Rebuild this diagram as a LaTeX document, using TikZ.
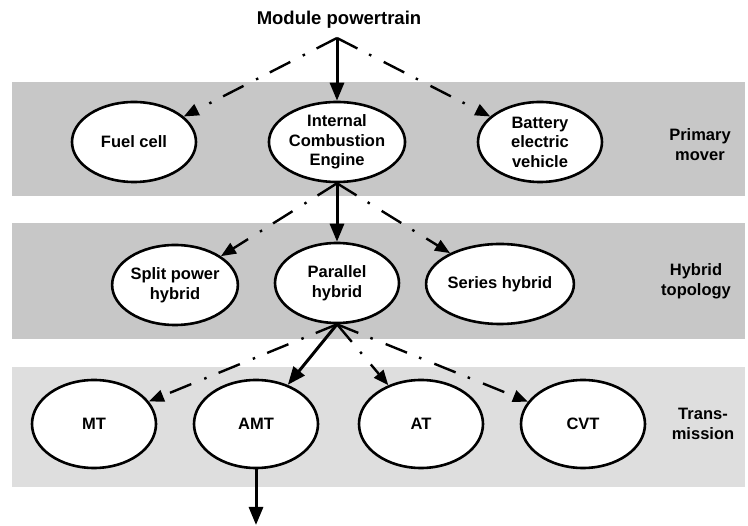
\documentclass[tikz,border=0pt]{standalone}
\usepackage{fontspec}
\setmainfont{Liberation Sans}
\usetikzlibrary{shapes.geometric,arrows.meta}
\definecolor{bandA}{RGB}{199,199,199}
\definecolor{bandC}{RGB}{222,222,222}
\begin{document}
\begin{tikzpicture}[x=1pt,y=-1pt,
  ell/.style={ellipse, draw, line width=2.6pt, fill=white, inner sep=0pt, align=center,
    minimum width=124pt, minimum height=80pt,
    font=\bfseries\fontsize{16.5}{19.5}\selectfont},
  side/.style={align=center, font=\bfseries\fontsize{16.5}{20}\selectfont},
  solidarr/.style={line width=3pt, -{Triangle[length=18pt,width=14pt]}},
  dasharr/.style={line width=2.4pt, dash pattern=on 23pt off 13pt on 2.5pt off 14pt,
    -{Triangle[length=15pt,width=12pt]}}
]
\useasboundingbox (0,0) rectangle (748,526);
% bands
\fill[bandA] (12,82) rectangle (745,196);
\fill[bandA] (12,223) rectangle (745,339);
\fill[bandC] (12,367) rectangle (745,487);

\node[font=\bfseries\fontsize{18.5}{20}\selectfont] (title) at (339,20) {Module powertrain};
\coordinate (apex) at (337,38);

% primary mover
\node[ell] (fc) at (134,142) {Fuel cell};
\node[ell] (ice) at (337,142) {Internal\\Combustion\\Engine};
\node[ell] (bev) at (540,142) {Battery\\electric\\vehicle};
\node[side] (l1) at (700,145) {Primary\\mover};

% hybrid topology
\node[ell] (sph) at (175,285) {Split power\\hybrid};
\node[ell] (ph) at (337,283) {Parallel\\hybrid};
\node[ell] (sh) at (500,284) {Series hybrid};
\node[side] (l2) at (696,281) {Hybrid\\topology};

% transmission
\node[ell, minimum height=88pt] (mt) at (94,424) {MT};
\node[ell, minimum height=88pt] (amt) at (256,424) {AMT};
\node[ell, minimum height=88pt] (at) at (421,424) {AT};
\node[ell, minimum height=88pt] (cvt) at (583,424) {CVT};
\node[side] (l3) at (703,424) {Trans-\\mission};

\coordinate (out) at (256,525);

% connectors
\draw[solidarr] (apex) -- (ice);
\draw[dasharr] (apex) -- (fc);
\draw[dasharr] (apex) -- (bev);

\draw[solidarr] (ice.south) -- (ph);
\draw[dasharr] (ice.south) -- (sph);
\draw[dasharr] (ice.south) -- (sh);

\draw[solidarr] (ph.south) -- (amt);
\draw[dasharr] (ph.south) -- (mt);
\draw[dasharr] (ph.south) -- (at);
\draw[dasharr] (ph.south) -- (cvt);

\draw[solidarr] (amt.south) -- (out);
\end{tikzpicture}
\end{document}
